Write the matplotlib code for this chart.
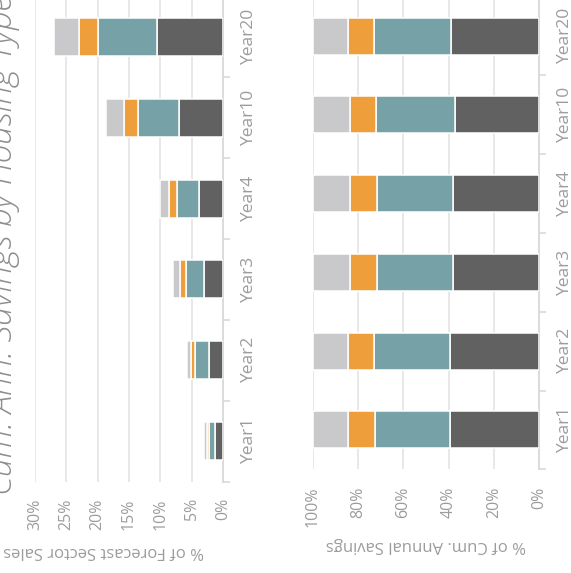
import numpy as np
import matplotlib
matplotlib.use("Agg")
import matplotlib.pyplot as plt

plt.rcParams['font.family'] = ['Open Sans', 'DejaVu Sans']

years = ["Year1", "Year2", "Year3", "Year4", "Year10", "Year20"]
housing_types = ["Single Family", "Multi Family", "Manufactured", "Other"]
colors = ["#616162", "#76a2a7", "#ee9e3b", "#c9c9cb"]

# cumulative annual savings as % of forecast sector sales
single_family_sales = [1.20, 2.28, 3.10, 3.88, 7.07, 10.57]
multi_family_sales = [1.01, 2.11, 2.76, 3.42, 6.51, 9.30]
manufactured_sales = [0.35, 0.64, 0.98, 1.24, 2.26, 3.13]
other_sales = [0.47, 0.77, 1.15, 1.47, 2.85, 3.90]

# share of cumulative annual savings (%)
single_family_share = [39.5, 39.2, 38.2, 38.0, 37.3, 38.8]
multi_family_share = [33.2, 33.7, 33.6, 33.8, 34.7, 34.1]
manufactured_share = [11.6, 11.5, 11.7, 11.7, 11.7, 11.5]
other_share = [15.7, 15.6, 16.5, 16.5, 16.3, 15.6]

sales_ticks = [0, 5, 10, 15, 20, 25, 30]
share_ticks = [0, 20, 40, 60, 80, 100]

TEXT = "#9c9c9c"
GRID = "#e6e6e6"
AXIS = "#d9d9d9"

W, H = 571, 573
fig = plt.figure(figsize=(W / 100, H / 100), dpi=100)


def px_axes(x0, x1, y_top, y_bot):
    return fig.add_axes([x0 / W, 1 - y_bot / H, (x1 - x0) / W, (y_bot - y_top) / H])


def draw_panel(ax, series, ticks, xmax, label, label_xy, pad):
    pos = np.arange(len(years))
    left = np.zeros(len(years))
    for vals, col in zip(series, colors):
        ax.barh(pos, vals, left=left, height=0.47, color=col,
                edgecolor="white", linewidth=1.1, zorder=3)
        left += np.asarray(vals)
    ax.set_xlim(xmax, 0)
    ax.set_ylim(-0.5, len(years) - 0.5)
    ax.set_xticks(ticks)
    ax.set_xticklabels([f"{t}%" for t in ticks], rotation=90,
                       fontsize=11.5, color=TEXT)
    ax.tick_params(axis="x", length=0, pad=pad)
    ax.grid(axis="x", color=GRID, linewidth=1.3, zorder=0)
    ax.yaxis.tick_right()
    ax.set_yticks(pos)
    ax.set_yticklabels(years, rotation=90, va="center", ha="left",
                       fontsize=12.5, color=TEXT)
    ax.set_yticks(np.arange(-0.5, len(years), 1), minor=True)
    ax.tick_params(axis="y", which="major", length=0, pad=13)
    ax.tick_params(axis="y", which="minor", length=5, width=1.2,
                   color=AXIS, right=True, left=False)
    for side in ("top", "left", "bottom"):
        ax.spines[side].set_visible(False)
    ax.spines["right"].set_color(AXIS)
    ax.spines["right"].set_linewidth(1.3)
    ax.set_xlabel(label, rotation=180, fontsize=12, color=TEXT)
    ax.xaxis.label.set_va("center")
    ax.xaxis.set_label_coords(*label_xy)


ax1 = px_axes(35, 223, -3.5, 481.5)
draw_panel(ax1, [single_family_sales, multi_family_sales, manufactured_sales, other_sales],
           sales_ticks, 30, "% of Forecast Sector Sales", (0.367, -0.143), 12)

ax2 = px_axes(313, 539, -3.3, 469.3)
draw_panel(ax2, [single_family_share, multi_family_share, manufactured_share, other_share],
           share_ticks, 100, "% of Cum. Annual Savings", (0.5, -0.160), 12.7)

fig.text(12.3 / W, 1 - 495 / H, "Cum. Ann. Savings by Housing Type",
         rotation=90, rotation_mode="anchor", ha="left", va="baseline",
         fontsize=24, fontstyle="italic", fontweight="light", color="#8e8e8e")

fig.savefig("out.png", dpi=100)
